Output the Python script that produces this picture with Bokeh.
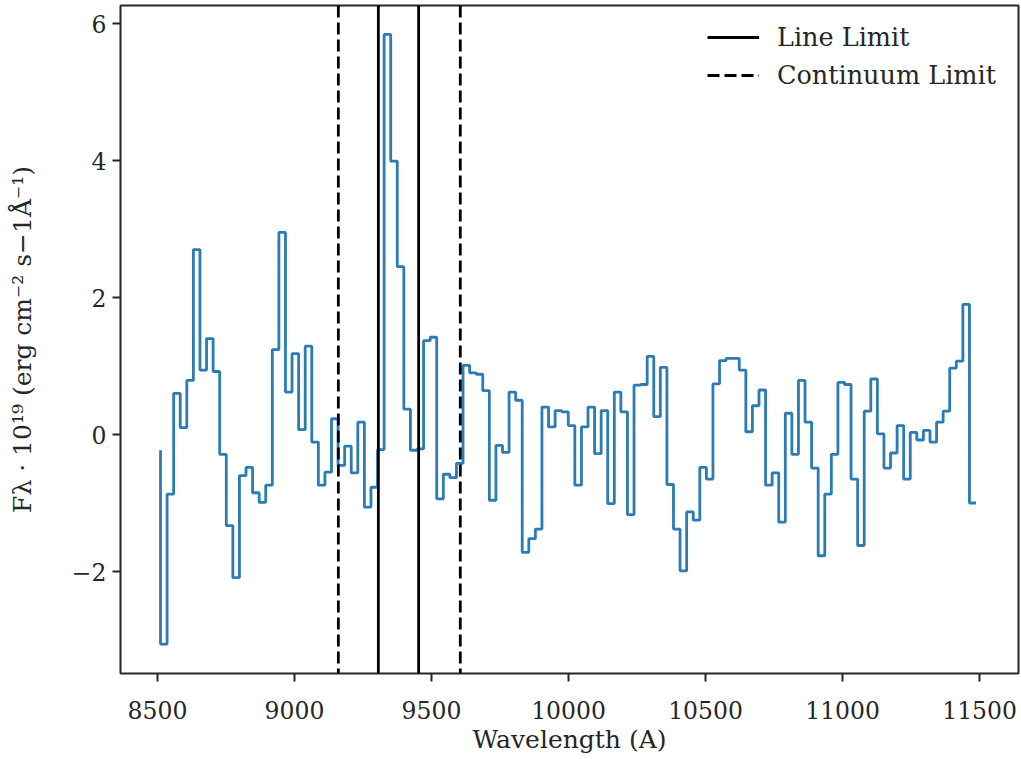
import numpy as np
from bokeh.plotting import figure
from bokeh.models import Span, Legend, LegendItem, FixedTicker, Range1d
from bokeh.embed import file_html
from bokeh.resources import INLINE

# ---- data ----
WAVE_START = 8511.0   # first wavelength sample (A)
WAVE_STEP = 24.0      # bin width (A)
FLUX = [
    -0.23, -3.06, -0.87, 0.60, 0.10, 0.79, 2.70, 0.94, 1.40, 0.92,
    -0.29, -1.33, -2.09, -0.60, -0.48, -0.85, -0.99, -0.74, 1.24, 2.95,
    0.62, 1.18, 0.07, 1.29, -0.11, -0.74, -0.55, 0.23, -0.45, -0.17,
    -0.56, 0.18, -1.06, -0.77, -0.22, 5.84, 3.99, 2.45, 0.37, -0.23,
    -0.21, 1.37, 1.42, -0.94, -0.58, -0.63, -0.42, 1.01, 0.90, 0.88,
    0.64, -0.96, -0.16, -0.26, 0.62, 0.50, -1.72, -1.52, -1.38, 0.40,
    0.11, 0.35, 0.33, 0.13, -0.74, 0.11, 0.40, -0.28, 0.35, -1.01,
    0.62, 0.33, -1.17, 0.72, 0.73, 1.14, 0.26, 0.98, -0.73, -1.38,
    -1.99, -1.13, -1.25, -0.48, -0.65, 0.74, 1.08, 1.11, 1.11, 0.94,
    0.04, 0.42, 0.65, -0.74, -0.56, -1.28, 0.31, -0.29, 0.79, 0.18,
    -0.49, -1.77, -0.87, -0.29, 0.76, 0.73, -0.65, -1.62, 0.34, 0.81,
    0.01, -0.49, -0.27, 0.13, -0.65, 0.03, -0.08, 0.06, -0.11, 0.18,
    0.34, 0.97, 1.07, 1.90, -1.00,
]
LINE_LIMITS = [9306, 9453]
CONTINUUM_LIMITS = [9160, 9605]
X_TICKS = [8500, 9000, 9500, 10000, 10500, 11000, 11500]
X_TICK_LABELS = ["8500", "9000", "9500", "10000", "10500", "11000", "11500"]
Y_TICKS = [-2, 0, 2, 4, 6]
Y_TICK_LABELS = ["\u22122", "0", "2", "4", "6"]
X_LABEL = "Wavelength (A)"
Y_LABEL = "F\u03bb \u00b7 10\u00b9\u2079 (erg cm\u207b\u00b2 s\u22121\u00c5\u207b\u00b9)"
LEGEND_LABELS = ["Line Limit", "Continuum Limit"]

wavelength = WAVE_START + WAVE_STEP * np.arange(len(FLUX))

TEXT = "#262626"
FONT = "DejaVu Serif"
DASH = "12 5"

p = figure(frame_width=898, frame_height=668,
           min_border_left=120, min_border_right=2, min_border_top=5, min_border_bottom=40,
           x_range=Range1d(8365, 11642), y_range=Range1d(-3.489, 6.263),
           output_backend="svg", toolbar_location=None)

p.background_fill_color = "white"
p.border_fill_color = "white"
p.outline_line_color = TEXT
p.outline_line_width = 2
p.xgrid.visible = False
p.ygrid.visible = False

p.step(wavelength, FLUX, mode="before", line_color="#2b7bb4", line_width=2.8)

for xv in LINE_LIMITS:
    p.add_layout(Span(location=xv, dimension="height", line_color="black", line_width=2.8))
for xv in CONTINUUM_LIMITS:
    p.add_layout(Span(location=xv, dimension="height", line_color="black", line_width=2.8,
                      line_dash=DASH))

# invisible (NaN) renderers that only carry the legend glyphs
r_line = p.line(x=LINE_LIMITS, y=[np.nan] * len(LINE_LIMITS), line_color="black", line_width=2.8)
r_dash = p.line(x=CONTINUUM_LIMITS, y=[np.nan] * len(CONTINUUM_LIMITS), line_color="black",
                line_width=2.8, line_dash=DASH)

p.xaxis.ticker = FixedTicker(ticks=X_TICKS)
p.xaxis.major_label_overrides = dict(zip(X_TICKS, X_TICK_LABELS))
p.yaxis.ticker = FixedTicker(ticks=Y_TICKS)
p.yaxis.major_label_overrides = dict(zip(Y_TICKS, Y_TICK_LABELS))
p.xaxis.axis_label = X_LABEL
p.yaxis.axis_label = Y_LABEL

for ax in (p.xaxis[0], p.yaxis[0]):
    ax.axis_line_color = None
    ax.major_tick_line_color = TEXT
    ax.major_tick_line_width = 2
    ax.major_tick_out = 8
    ax.major_tick_in = 0
    ax.minor_tick_line_color = None
    ax.major_label_text_font = FONT
    ax.major_label_text_font_size = "23.5px"
    ax.major_label_text_color = TEXT
    ax.axis_label_text_font = FONT
    ax.axis_label_text_font_size = "25px"
    ax.axis_label_text_font_style = "normal"
    ax.axis_label_text_color = TEXT

p.xaxis.major_label_standoff = 19
p.xaxis.axis_label_standoff = 3
p.yaxis.major_label_standoff = 6
p.yaxis.axis_label_standoff = 32

legend = Legend(items=[LegendItem(label=LEGEND_LABELS[0], renderers=[r_line]),
                       LegendItem(label=LEGEND_LABELS[1], renderers=[r_dash])],
                location=(587, 579))
legend.border_line_color = None
legend.background_fill_alpha = 0
legend.padding = 5
legend.margin = 0
legend.spacing = 0
legend.glyph_width = 52
legend.glyph_height = 38
legend.label_height = 38
legend.label_standoff = 18
legend.label_text_font = FONT
legend.label_text_font_size = "25.5px"
legend.label_text_color = TEXT
p.add_layout(legend)

open("out.html", "w").write(file_html(p, INLINE))
